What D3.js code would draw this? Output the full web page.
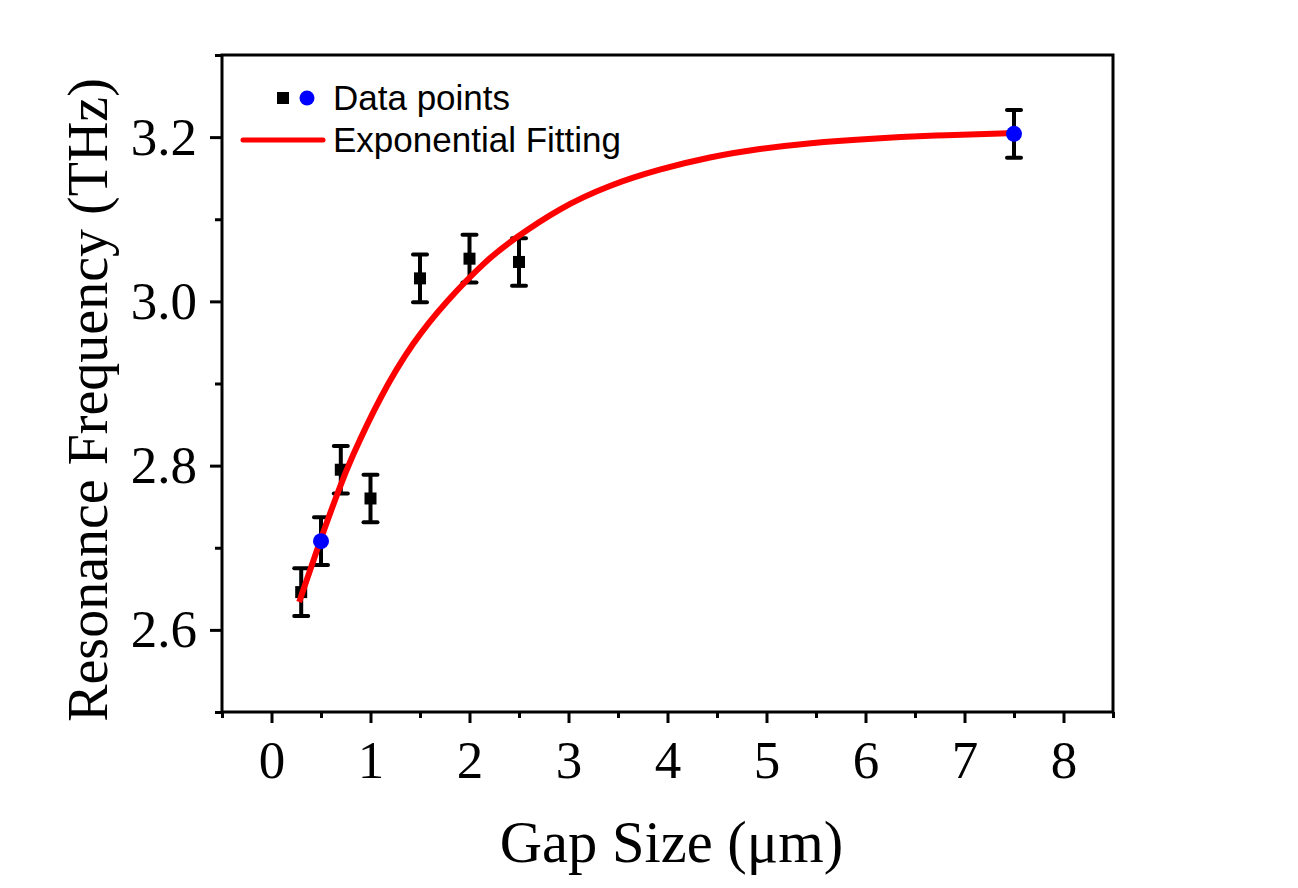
<!DOCTYPE html>
<html><head><meta charset="utf-8">
<script src="https://cdn.jsdelivr.net/npm/d3@7"></script>
<style>body{margin:0;background:#fff}</style>
</head><body><svg id="c" width="1298" height="888"></svg>
<script>
// ---- data ----
const squareGap = [0.3, 0.7, 1.0, 1.5, 2.0, 2.5];
const squareFreq = [2.646, 2.795, 2.760, 3.028, 3.052, 3.048];
const blueGap = [0.5, 7.5];
const blueFreq = [2.708, 3.204];
const errGap = [0.3, 0.5, 0.7, 1.0, 1.5, 2.0, 2.5, 7.5];
const errFreq = [2.646, 2.708, 2.795, 2.760, 3.028, 3.052, 3.048, 3.204];
const errSize = [0.029, 0.029, 0.029, 0.029, 0.029, 0.029, 0.029, 0.029];
const fitGap = [0.28, 0.5, 0.69, 0.79, 1.1, 1.43, 1.77, 2.17, 2.41, 2.91, 3.42, 3.92, 4.43, 4.93, 5.44, 6.01, 6.69, 7.5];
const fitFreq = [2.634, 2.712, 2.774, 2.805, 2.885, 2.951, 3.001, 3.050, 3.073, 3.114, 3.142, 3.161, 3.176, 3.186, 3.193, 3.198, 3.202, 3.205];
const xTicks = [0, 1, 2, 3, 4, 5, 6, 7, 8];
const xMinor = [-0.5, 0.5, 1.5, 2.5, 3.5, 4.5, 5.5, 6.5, 7.5, 8.5];
const yTicks = [2.6, 2.8, 3.0, 3.2];
const yMinor = [2.5, 2.7, 2.9, 3.1, 3.3];
const legendLabels = ["Data points", "Exponential Fitting"];
const xTitle = "Gap Size (\u03bcm)";
const yTitle = "Resonance Frequency (THz)";

// ---- layout ----
const L = 222, R = 1113, T = 55, B = 712;
const svg = d3.select("#c");
svg.append("rect").attr("width", 1298).attr("height", 888).attr("fill", "#fff");
const x = d3.scaleLinear().domain([-0.5, 8.5]).range([L, R]);
const y = d3.scaleLinear().domain([2.5, 3.3]).range([B, T]);

const serif = "'Liberation Serif','Times New Roman',serif";
const sans = "'Liberation Sans',Arial,sans-serif";

// axes
const gx = svg.append("g").attr("transform", `translate(0,${B})`)
  .call(d3.axisBottom(x).tickValues(xTicks).tickSize(11).tickSizeOuter(0).tickPadding(17).tickFormat(d3.format("d")));
const gxm = svg.append("g").attr("transform", `translate(0,${B})`)
  .call(d3.axisBottom(x).tickValues(xMinor).tickSize(6).tickSizeOuter(0).tickFormat(""));
const gy = svg.append("g").attr("transform", `translate(${L},0)`)
  .call(d3.axisLeft(y).tickValues(yTicks).tickSize(12).tickSizeOuter(0).tickPadding(13).tickFormat(d3.format(".1f")));
const gym = svg.append("g").attr("transform", `translate(${L},0)`)
  .call(d3.axisLeft(y).tickValues(yMinor).tickSize(7).tickSizeOuter(0).tickFormat(""));
[gx, gxm, gy, gym].forEach(g => {
  g.selectAll("path.domain").remove();
  g.selectAll("line").attr("stroke", "#000").attr("stroke-width", 3);
  g.selectAll("text").attr("font-family", serif).attr("font-size", 53).attr("fill", "#000");
});

// frame
svg.append("rect").attr("x", L).attr("y", T).attr("width", R - L).attr("height", B - T)
  .attr("fill", "none").attr("stroke", "#000").attr("stroke-width", 3);

// error bars
const eb = svg.append("g").attr("stroke", "#000").attr("stroke-width", 4).attr("stroke-linecap", "round");
errGap.forEach((g, i) => {
  const cx = x(g), y1 = y(errFreq[i] + errSize[i]), y2 = y(errFreq[i] - errSize[i]);
  eb.append("line").attr("x1", cx).attr("x2", cx).attr("y1", y1).attr("y2", y2).attr("stroke-linecap", "butt");
  eb.append("line").attr("x1", cx - 7).attr("x2", cx + 7).attr("y1", y1).attr("y2", y1);
  eb.append("line").attr("x1", cx - 7).attr("x2", cx + 7).attr("y1", y2).attr("y2", y2);
});

// squares
svg.append("g").selectAll("rect").data(squareGap).join("rect")
  .attr("x", (d) => x(d) - 6).attr("y", (d, i) => y(squareFreq[i]) - 6)
  .attr("width", 12).attr("height", 12).attr("fill", "#000");

// fit line
const line = d3.line().x(d => x(d[0])).y(d => y(d[1])).curve(d3.curveBasis);
svg.append("path").datum(fitGap.map((g, i) => [g, fitFreq[i]]))
  .attr("d", line).attr("fill", "none").attr("stroke", "#ff0000").attr("stroke-width", 6);

// blue circles
svg.append("g").selectAll("circle").data(blueGap).join("circle")
  .attr("cx", d => x(d)).attr("cy", (d, i) => y(blueFreq[i])).attr("r", 8).attr("fill", "#0000ff");

// legend
svg.append("rect").attr("x", 277).attr("y", 92).attr("width", 12).attr("height", 12).attr("fill", "#000");
svg.append("circle").attr("cx", 307).attr("cy", 98).attr("r", 7.5).attr("fill", "#0000ff");
svg.append("line").attr("x1", 243).attr("x2", 323).attr("y1", 140).attr("y2", 140)
  .attr("stroke", "#ff0000").attr("stroke-width", 5).attr("stroke-linecap", "round");
svg.append("text").attr("x", 333).attr("y", 110).text(legendLabels[0])
  .attr("font-family", sans).attr("font-size", 35).attr("fill", "#000");
svg.append("text").attr("x", 333).attr("y", 152).text(legendLabels[1])
  .attr("font-family", sans).attr("font-size", 35).attr("fill", "#000");

// axis titles
svg.append("text").attr("x", (L + R) / 2 + 4).attr("y", 862).attr("text-anchor", "middle")
  .attr("font-family", serif).attr("font-size", 58.5).attr("fill", "#000").text(xTitle);
svg.append("text").attr("transform", `translate(107,400) rotate(-90)`).attr("text-anchor", "middle")
  .attr("font-family", serif).attr("font-size", 56).attr("fill", "#000").text(yTitle);
</script></body></html>
